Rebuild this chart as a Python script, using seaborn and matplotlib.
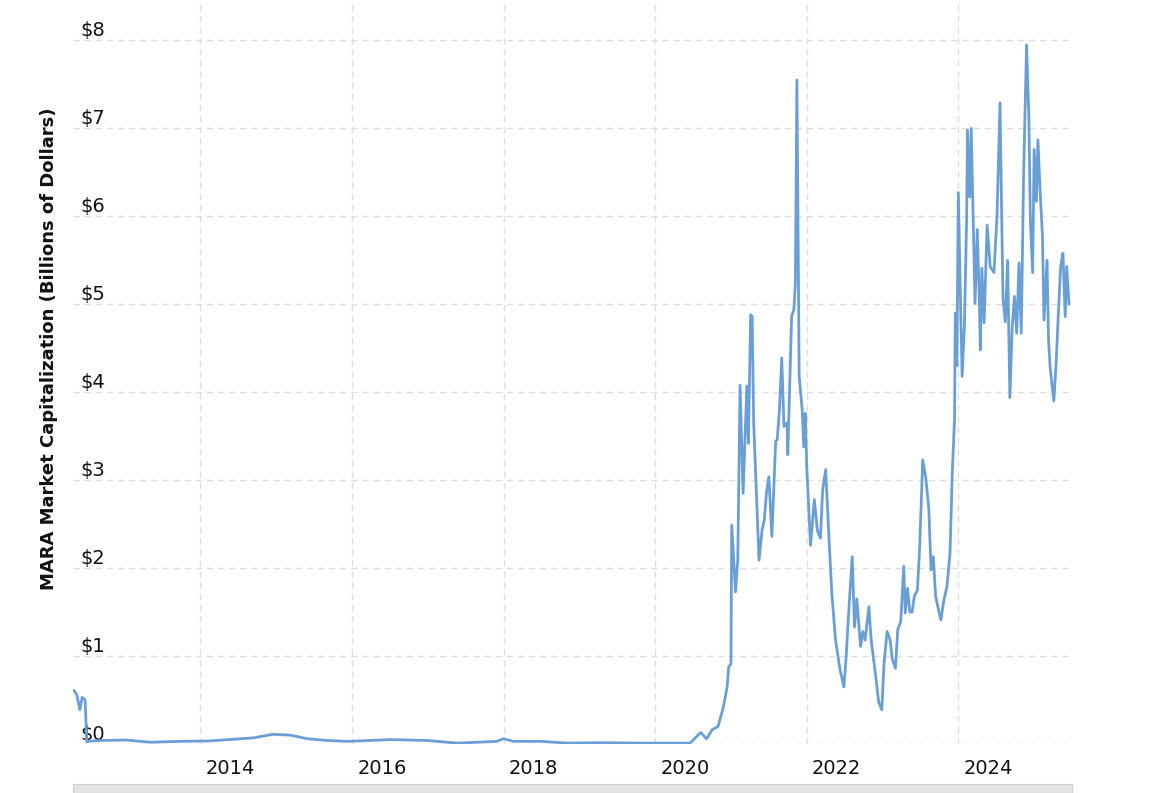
import numpy as np
import pandas as pd
import matplotlib
matplotlib.use('Agg')
import matplotlib.pyplot as plt
import matplotlib.transforms as mtransforms
from matplotlib.patches import Rectangle
import seaborn as sns

# 데이터: 연도(소수) / 시가총액 (십억 달러)
years = [2012.33, 2012.37, 2012.41, 2012.44, 2012.48, 2012.50, 2012.68, 2013.03, 2013.34, 2013.74,
         2014.13, 2014.53, 2014.70, 2014.96, 2015.19, 2015.41, 2015.67, 2015.94, 2016.11, 2016.51,
         2016.99, 2017.39, 2017.91, 2018.00, 2018.13, 2018.49, 2018.84, 2019.28, 2019.80, 2020.46,
         2020.60, 2020.68, 2020.75, 2020.83, 2020.90, 2020.95, 2020.97, 2021.00, 2021.01, 2021.06,
         2021.09, 2021.12, 2021.16, 2021.21, 2021.23, 2021.26, 2021.28, 2021.30, 2021.32, 2021.37,
         2021.41, 2021.44, 2021.47, 2021.50, 2021.54, 2021.59, 2021.61, 2021.64, 2021.67, 2021.70,
         2021.74, 2021.75, 2021.80, 2021.83, 2021.85, 2021.87, 2021.90, 2021.94, 2021.96, 2021.98,
         2022.00, 2022.05, 2022.10, 2022.14, 2022.18, 2022.21, 2022.25, 2022.29, 2022.33, 2022.38,
         2022.40, 2022.44, 2022.49, 2022.52, 2022.55, 2022.60, 2022.63, 2022.66, 2022.71, 2022.74,
         2022.77, 2022.82, 2022.85, 2022.91, 2022.95, 2022.99, 2023.02, 2023.06, 2023.10, 2023.13,
         2023.17, 2023.20, 2023.24, 2023.28, 2023.30, 2023.33, 2023.36, 2023.39, 2023.42, 2023.46,
         2023.49, 2023.53, 2023.57, 2023.61, 2023.64, 2023.67, 2023.70, 2023.74, 2023.77, 2023.81,
         2023.85, 2023.89, 2023.92, 2023.95, 2023.96, 2023.98, 2024.00, 2024.03, 2024.05, 2024.08,
         2024.11, 2024.12, 2024.15, 2024.17, 2024.20, 2024.22, 2024.25, 2024.28, 2024.29, 2024.31,
         2024.34, 2024.38, 2024.42, 2024.47, 2024.51, 2024.55, 2024.57, 2024.59, 2024.62, 2024.65,
         2024.68, 2024.71, 2024.74, 2024.77, 2024.80, 2024.83, 2024.86, 2024.90, 2024.93, 2024.95,
         2024.98, 2025.00, 2025.03, 2025.05, 2025.08, 2025.11, 2025.13, 2025.17, 2025.19, 2025.21,
         2025.26, 2025.29, 2025.32, 2025.35, 2025.38, 2025.41, 2025.43, 2025.46]
mcap = [0.61, 0.56, 0.39, 0.53, 0.50, 0.03, 0.04, 0.045, 0.02, 0.03,
        0.035, 0.06, 0.07, 0.11, 0.10, 0.06, 0.04, 0.03, 0.035, 0.05,
        0.04, 0.01, 0.03, 0.06, 0.03, 0.03, 0.01, 0.015, 0.01, 0.01,
        0.13, 0.06, 0.16, 0.20, 0.42, 0.65, 0.88, 0.91, 2.49, 1.73,
        2.09, 4.08, 2.85, 4.07, 3.42, 4.88, 4.86, 3.65, 3.20, 2.09,
        2.43, 2.55, 2.87, 3.04, 2.36, 3.44, 3.46, 3.80, 4.39, 3.61,
        3.65, 3.29, 4.86, 4.94, 5.24, 7.55, 4.18, 3.80, 3.38, 3.76,
        3.15, 2.26, 2.78, 2.43, 2.34, 2.89, 3.12, 2.40, 1.72, 1.18,
        1.07, 0.84, 0.65, 0.99, 1.45, 2.13, 1.33, 1.65, 1.11, 1.28,
        1.18, 1.56, 1.18, 0.77, 0.47, 0.39, 0.92, 1.28, 1.18, 0.96,
        0.86, 1.30, 1.39, 2.02, 1.49, 1.77, 1.50, 1.50, 1.68, 1.75,
        2.24, 3.23, 3.03, 2.68, 1.98, 2.13, 1.68, 1.52, 1.41, 1.64,
        1.79, 2.17, 3.08, 3.70, 4.90, 4.30, 6.27, 4.97, 4.18, 4.75,
        6.00, 6.98, 6.22, 7.00, 5.80, 5.01, 5.85, 4.94, 4.48, 5.41,
        4.79, 5.90, 5.43, 5.36, 6.00, 7.29, 6.11, 5.05, 4.80, 5.50,
        3.94, 4.73, 5.09, 4.67, 5.47, 4.67, 6.42, 7.95, 7.14, 5.96,
        5.36, 6.76, 6.17, 6.87, 6.27, 5.77, 4.82, 5.50, 4.60, 4.29,
        3.90, 4.33, 4.90, 5.43, 5.58, 4.86, 5.43, 5.00]

year_ticks = [2014, 2016, 2018, 2020, 2022, 2024]
dollar_ticks = [0, 1, 2, 3, 4, 5, 6, 7, 8]

df = pd.DataFrame({'year': years, 'mcap': mcap})

sns.set_style('white')
plt.rcParams['font.family'] = ['DejaVu Sans']

fig = plt.figure(figsize=(11.65, 7.93), dpi=100)
ax = fig.add_axes([0.0627, 0.0618, 0.8575, 0.9382])

sns.lineplot(data=df, x='year', y='mcap', color='#6a9fd6', linewidth=2.0, ax=ax)

ax.set_xlim(2012.32, 2025.50)
ax.set_ylim(0, 8.46)

# 격자
ax.set_xticks(year_ticks)
ax.set_xticklabels([str(y) for y in year_ticks])
ax.set_yticks(dollar_ticks)
ax.set_yticklabels([f'${v}' for v in dollar_ticks])
ax.grid(True, color='#dddddd', linestyle=(0, (4.5, 3.5)), linewidth=1.0)

for s in ax.spines.values():
    s.set_visible(False)

ax.tick_params(axis='x', length=0, pad=11, labelsize=14, colors='#111111')
ax.tick_params(axis='y', length=0, pad=-5, labelsize=14, colors='#111111')

offset = mtransforms.ScaledTranslation(0.30, 0, fig.dpi_scale_trans)
for lab in ax.get_xticklabels():
    lab.set_transform(lab.get_transform() + offset)
for lab in ax.get_yticklabels():
    lab.set_horizontalalignment('left')
    lab.set_verticalalignment('bottom')

ax.set_xlabel('')
ax.set_ylabel('MARA Market Capitalization (Billions of Dollars)', fontsize=13,
              fontweight='bold', color='#111111')
ax.yaxis.set_label_coords(-0.015, 0.531)

# 하단 스크롤바 모양
fig.patches.append(Rectangle((0.0627, 0.0), 0.8575, 0.011, transform=fig.transFigure,
                             facecolor='#e4e4e4', edgecolor='#d0d0d0', linewidth=0.8))

plt.savefig('out.png', dpi=100)
plt.close()
